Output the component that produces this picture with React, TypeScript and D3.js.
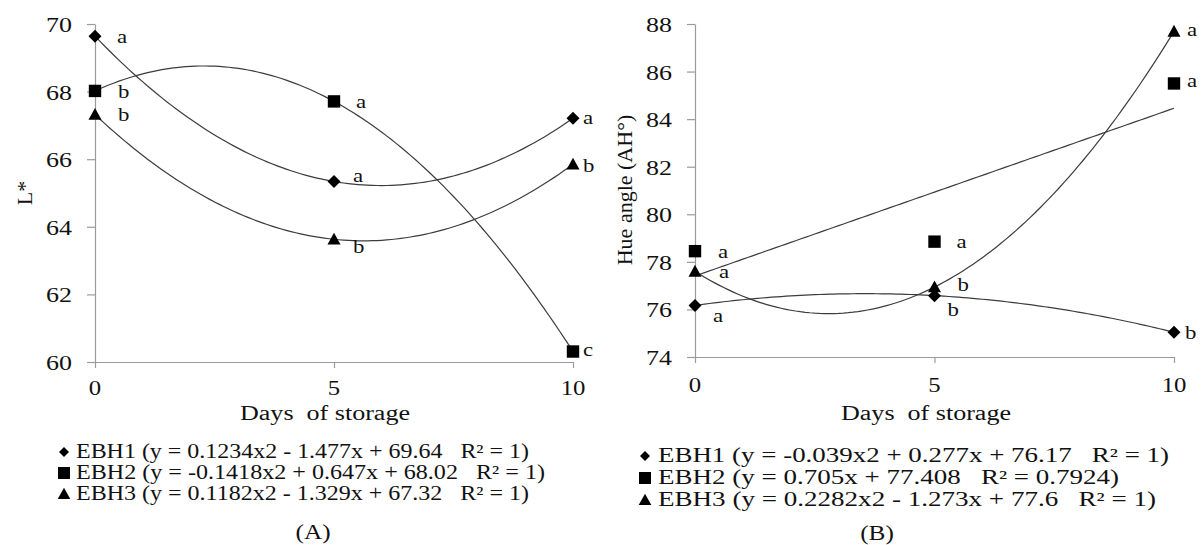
import React, { useEffect, useRef } from "react";
import * as d3 from "d3";

// shared
const days = [0, 5, 10];
const markerShapes = ["diamond", "square", "triangle"];

// panel A - L*
const lightTicks = [60, 62, 64, 66, 68, 70];
const lightEBH1 = [69.64, 65.34, 67.21];
const lightEBH2 = [68.02, 67.71, 60.31];
const lightEBH3 = [67.32, 63.63, 65.85];
const lightLetters = [
  ["a", "a", "a"],
  ["b", "a", "c"],
  ["b", "b", "b"],
];
// fitted trend coefficients (x2, x, const) as printed in the legend
const lightTrend = [
  [0.1234, -1.477, 69.64],
  [-0.1418, 0.647, 68.02],
  [0.1182, -1.329, 67.32],
];
const lightLegend = [
  "EBH1 (y = 0.1234x2 - 1.477x + 69.64   R\u00b2 = 1)",
  "EBH2 (y = -0.1418x2 + 0.647x + 68.02   R\u00b2 = 1)",
  "EBH3 (y = 0.1182x2 - 1.329x + 67.32   R\u00b2 = 1)",
];

// panel B - hue angle
const hueTicks = [74, 76, 78, 80, 82, 84, 86, 88];
const hueEBH1 = [76.17, 76.58, 75.04];
const hueEBH2 = [78.45, 78.85, 85.5];
const hueEBH3 = [77.6, 76.94, 87.69];
const hueLetters = [
  ["a", "b", "b"],
  ["a", "a", "a"],
  ["a", "b", "a"],
];
const hueTrend = [
  [-0.039, 0.277, 76.17],
  [0, 0.705, 77.408],
  [0.2282, -1.273, 77.6],
];
const hueLegend = [
  "EBH1 (y = -0.039x2 + 0.277x + 76.17   R\u00b2 = 1)",
  "EBH2 (y = 0.705x + 77.408   R\u00b2 = 0.7924)",
  "EBH3 (y = 0.2282x2 - 1.273x + 77.6   R\u00b2 = 1)",
];

const FONT = "Liberation Serif";
const INK = "#111";

const panels = [
  {
    series: [lightEBH1, lightEBH2, lightEBH3],
    letters: lightLetters,
    trend: lightTrend,
    legend: lightLegend,
    ticks: lightTicks,
    yTitle: "L*",
    tag: "(A)",
    layout: {
      x0: 95, x1: 573, yTop: 24, yBot: 362,
      yTitleX: 32, yTitleY: 193,
      xLabelY: 395, titleX: 325, titleY: 420, titleLen: 170,
      legX: 76, legMarkX: 64, legY: [458, 479, 500], legLen: [453, 469, 453],
      tagX: 313, tagY: 539,
      letterOff: [
        [[22, 6.5], [19, 0.5], [10, 5.5]],
        [[23, 7], [22, 6.5], [10, 4.5]],
        [[23, 6], [19, 14], [10, 8]],
      ],
    },
  },
  {
    series: [hueEBH1, hueEBH2, hueEBH3],
    letters: hueLetters,
    trend: hueTrend,
    legend: hueLegend,
    ticks: hueTicks,
    yTitle: "Hue angle (AH\u00b0)",
    tag: "(B)",
    layout: {
      x0: 695, x1: 1174, yTop: 24, yBot: 357,
      yTitleX: 632, yTitleY: 190,
      xLabelY: 392, titleX: 926, titleY: 420, titleLen: 170,
      legX: 658, legMarkX: 645, legY: [462, 484, 506], legLen: [511, 461, 498],
      tagX: 877, tagY: 540,
      letterOff: [
        [[18, 17], [13, 20], [11, 7]],
        [[23, 7], [22, 6], [13, 4]],
        [[24, 7], [23, 4], [13, 5]],
      ],
    },
  },
];

function markerPath(shape: string, s: number) {
  if (shape === "diamond") return `M0,${-s}L${s},0L0,${s}L${-s},0Z`;
  if (shape === "square") return `M${-s},${-s}H${s}V${s}H${-s}Z`;
  return `M0,${-s * 1.05}L${s * 1.05},${s * 0.85}L${-s * 1.05},${s * 0.85}Z`;
}

function stretchedText(g: any, x: number, y: number, str: string, size: number, anchor = "start", sx = 1.2) {
  return g
    .append("text")
    .attr("transform", `translate(${x},${y}) scale(${sx},1)`)
    .attr("text-anchor", anchor)
    .attr("font-family", FONT)
    .attr("font-size", size)
    .attr("fill", INK)
    .text(str);
}

export default function App() {
  const ref = useRef<SVGSVGElement>(null);

  useEffect(() => {
    const svg = d3.select(ref.current);
    svg.selectAll("*").remove();

    panels.forEach((p) => {
      const L = p.layout;
      const g = svg.append("g");
      const x = d3.scaleLinear().domain([0, 10]).range([L.x0, L.x1]);
      const y = d3
        .scaleLinear()
        .domain([p.ticks[0], p.ticks[p.ticks.length - 1]])
        .range([L.yBot, L.yTop]);

      // axes
      const ax = g
        .append("g")
        .attr("transform", `translate(0,${L.yBot})`)
        .call(d3.axisBottom(x).tickValues(days).tickSize(6).tickSizeOuter(0).tickFormat(() => ""));
      const ay = g
        .append("g")
        .attr("transform", `translate(${L.x0},0)`)
        .call(d3.axisLeft(y).tickValues(p.ticks).tickSize(8).tickSizeOuter(0).tickFormat(() => ""));
      [ax, ay].forEach((a) => {
        a.selectAll("path").style("stroke", "#9a9a9a").style("stroke-width", 1.2);
        a.selectAll("line").style("stroke", "#9a9a9a").style("stroke-width", 1.2);
      });

      p.ticks.forEach((t) => stretchedText(g, L.x0 - 23, y(t) + 8, String(t), 22, "end", 1.18));
      days.forEach((d) => stretchedText(g, x(d), L.xLabelY, String(d), 21, "middle", 1.18));

      g.append("text")
        .attr("x", L.titleX)
        .attr("y", L.titleY)
        .attr("text-anchor", "middle")
        .attr("textLength", L.titleLen)
        .attr("lengthAdjust", "spacingAndGlyphs")
        .attr("font-family", FONT)
        .attr("font-size", 20)
        .attr("fill", INK)
        .style("white-space", "pre")
        .text("Days  of storage");

      g.append("text")
        .attr("transform", `translate(${L.yTitleX},${L.yTitleY}) rotate(-90)`)
        .attr("text-anchor", "middle")
        .attr("font-family", FONT)
        .attr("font-size", 22)
        .attr("fill", INK)
        .text(p.yTitle);

      // trend curves
      const xs = d3.range(0, 10.001, 0.1);
      const line = d3.line<number>().x((d) => x(d));
      p.trend.forEach((c) => {
        g.append("path")
          .datum(xs)
          .attr("fill", "none")
          .attr("stroke", "#3c3c3c")
          .attr("stroke-width", 1.2)
          .attr("d", line.y((d) => y(c[0] * d * d + c[1] * d + c[2])));
      });

      // points + letters
      p.series.forEach((vals, si) => {
        vals.forEach((v, i) => {
          g.append("path")
            .attr("transform", `translate(${x(days[i])},${y(v)})`)
            .attr("d", markerPath(markerShapes[si], si === 0 ? 6.5 : 6.2))
            .attr("fill", "#000");
          const off = L.letterOff[si][i];
          stretchedText(g, x(days[i]) + off[0], y(v) + off[1], p.letters[si][i], 19);
        });
      });

      // legend
      p.legend.forEach((txt, i) => {
        g.append("path")
          .attr("transform", `translate(${L.legMarkX},${L.legY[i] - 6})`)
          .attr("d", markerPath(markerShapes[i], i === 0 ? 5 : 6))
          .attr("fill", "#000");
        g.append("text")
          .attr("x", L.legX)
          .attr("y", L.legY[i])
          .attr("textLength", L.legLen[i])
          .attr("lengthAdjust", "spacingAndGlyphs")
          .attr("font-family", FONT)
          .attr("font-size", 20)
          .attr("fill", INK)
          .style("white-space", "pre")
          .text(txt);
      });

      stretchedText(g, L.tagX, L.tagY, p.tag, 22, "middle", 1.15);
    });
  }, []);

  return (
    <svg
      ref={ref}
      width={1201}
      height={545}
      style={{ position: "absolute", left: 0, top: 0, background: "#fff" }}
    />
  );
}
